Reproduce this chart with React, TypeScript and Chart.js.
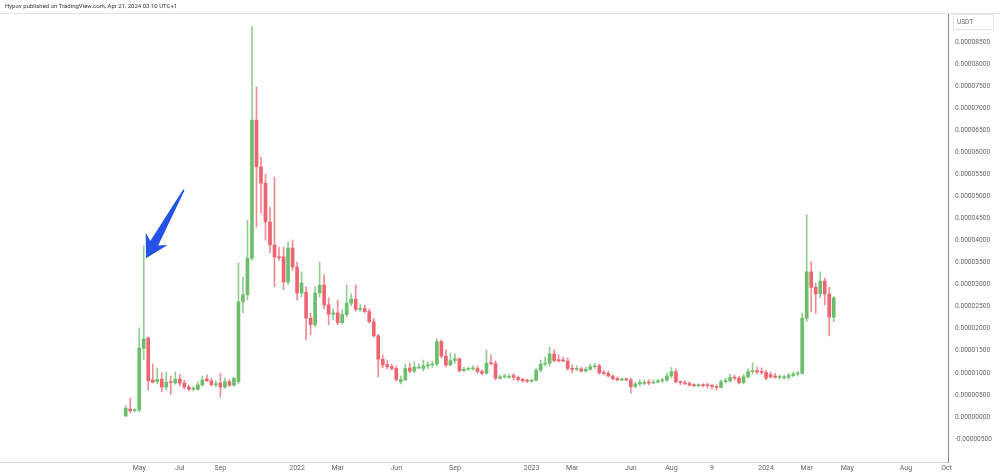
import React, { useEffect, useRef } from "react";
import { Chart, registerables } from "chart.js";

Chart.register(...registerables);

// Weekly candles, values in micro-USDT (1e-6 USDT), week 0 = 2021-04-12
const opens = [
  0.25, 1.8, 1.4, 1.6, 15.6, 17.9, 8.4, 8.0, 8.6, 6.8, 7.9, 7.7, 8.6, 7.7, 6.8, 6.3, 6.3, 7.3, 8.6, 8.2,
  7.3, 7.7, 6.8, 8.0, 7.2, 8.0, 26.1, 27.7, 36.0, 67.3, 56.7, 53.0, 44.2, 39.0, 36.3, 36.3, 30.6, 38.3, 34.0, 28.1,
  28.3, 22.4, 20.9, 28.1, 29.9, 25.4, 23.3, 23.6, 21.4, 23.2, 25.8, 26.7, 24.4, 24.6, 23.9, 21.6, 18.4, 13.1, 11.9, 11.4,
  11.0, 8.0, 8.4, 11.1, 10.4, 11.3, 11.0, 11.6, 11.8, 12.0, 17.1, 13.8, 11.8, 12.8, 13.2, 10.5, 10.8, 10.9, 11.0, 10.3,
  9.9, 12.2, 12.1, 8.8, 9.1, 9.2, 9.4, 9.0, 8.5, 8.2, 8.1, 8.3, 10.6, 12.0, 12.2, 14.3, 13.0, 12.9, 12.7, 11.0,
  10.8, 10.9, 10.4, 10.8, 11.4, 11.6, 10.0, 9.9, 9.3, 8.7, 8.4, 8.5, 8.4, 6.9, 7.5, 7.8, 7.8, 7.7, 7.9, 8.2,
  8.4, 9.3, 10.3, 8.0, 7.8, 7.6, 7.25, 7.1, 7.2, 7.3, 7.2, 6.9, 6.7, 8.0, 8.2, 9.0, 8.8, 7.8, 9.1, 10.3,
  10.5, 10.2, 10.1, 9.6, 9.3, 9.0, 9.1, 9.0, 9.4, 9.75, 9.9, 22.4, 32.9, 29.4, 27.9, 30.8, 27.9, 22.6,
];
const highs = [
  2.7, 4.3, 1.9, 20.2, 38.8, 18.2, 12.0, 11.1, 10.0, 10.2, 9.3, 10.2, 9.7, 8.4, 7.3, 6.9, 7.9, 9.3, 9.5, 8.8,
  8.2, 9.9, 8.8, 8.5, 9.0, 34.9, 31.7, 44.6, 88.5, 74.8, 58.9, 55.0, 47.5, 54.4, 38.5, 38.5, 39.7, 40.1, 35.1, 32.9,
  29.5, 23.5, 29.5, 35.1, 32.2, 27.0, 24.5, 26.5, 24.3, 29.9, 27.9, 29.9, 25.6, 25.4, 24.5, 22.4, 18.8, 14.1, 12.9, 12.0,
  11.6, 9.3, 12.0, 12.2, 12.5, 12.0, 12.9, 12.5, 12.7, 17.7, 17.5, 15.2, 14.5, 14.3, 13.4, 11.3, 11.3, 11.6, 11.6, 10.7,
  15.2, 14.1, 12.7, 9.5, 9.7, 9.7, 9.9, 9.3, 8.8, 8.6, 8.6, 11.1, 12.9, 13.6, 15.8, 15.2, 14.1, 13.6, 13.4, 11.8,
  11.6, 11.3, 11.3, 12.0, 12.2, 12.0, 10.6, 10.4, 9.5, 9.1, 8.8, 8.8, 8.8, 7.9, 8.4, 8.4, 8.4, 8.4, 8.6, 8.8,
  10.0, 11.3, 10.9, 8.2, 8.2, 8.0, 7.5, 7.5, 7.5, 7.7, 7.3, 7.3, 8.4, 8.8, 9.7, 9.5, 9.3, 9.7, 10.9, 12.3,
  11.3, 11.1, 10.6, 10.2, 9.9, 9.5, 9.5, 9.9, 10.2, 10.4, 23.6, 45.8, 35.2, 30.4, 32.9, 31.5, 29.4, 27.3,
];
const lows = [
  0.1, 0.9, 1.2, 1.2, 13.0, 6.1, 7.7, 7.5, 5.7, 6.1, 5.2, 7.4, 7.0, 6.3, 5.9, 5.9, 6.0, 7.0, 8.0, 7.0,
  6.8, 4.5, 6.5, 6.9, 7.0, 7.5, 23.6, 26.5, 35.5, 43.0, 46.2, 40.1, 37.2, 29.5, 35.5, 28.8, 30.0, 33.3, 26.5, 27.2,
  17.5, 18.6, 20.4, 27.2, 24.5, 20.9, 22.0, 20.9, 21.1, 22.7, 25.2, 24.0, 24.0, 23.6, 21.3, 18.1, 9.1, 11.1, 10.9, 10.6,
  8.1, 7.5, 8.2, 10.0, 10.0, 11.0, 10.4, 11.0, 11.3, 11.6, 13.4, 11.3, 11.6, 12.2, 10.2, 10.2, 10.6, 10.6, 9.9, 9.5,
  9.7, 11.8, 8.4, 8.6, 8.8, 8.8, 8.4, 8.2, 7.9, 7.8, 7.9, 8.2, 10.2, 11.6, 11.6, 12.5, 12.5, 12.5, 10.6, 10.0,
  10.4, 10.2, 10.2, 10.6, 10.9, 9.7, 9.5, 9.1, 8.4, 8.2, 8.2, 8.2, 5.4, 6.6, 7.0, 7.3, 7.3, 7.5, 7.7, 7.7,
  8.0, 8.8, 7.7, 7.3, 7.3, 7.0, 6.8, 6.8, 6.8, 6.6, 6.3, 6.1, 6.6, 7.7, 7.9, 8.4, 7.5, 7.5, 8.8, 9.7,
  9.7, 9.7, 8.4, 8.8, 8.8, 8.6, 8.6, 8.6, 9.1, 9.3, 9.7, 21.6, 23.9, 23.5, 27.0, 25.4, 18.4, 21.6,
];
const closes = [
  2.0, 1.4, 1.6, 15.6, 17.7, 8.2, 7.9, 8.5, 6.8, 7.9, 7.8, 8.6, 7.7, 6.8, 6.3, 6.4, 7.3, 8.4, 8.2, 7.3,
  7.5, 6.8, 8.0, 7.2, 8.8, 26.1, 27.7, 36.0, 67.3, 56.7, 53.0, 44.2, 39.0, 36.3, 36.1, 30.6, 38.3, 34.0, 28.1, 30.4,
  22.4, 20.9, 28.1, 29.9, 25.4, 23.3, 23.6, 21.4, 23.2, 25.8, 26.7, 24.4, 24.6, 23.9, 21.6, 18.4, 13.1, 11.8, 11.4, 11.0,
  8.5, 8.5, 11.0, 10.4, 11.3, 11.3, 11.6, 11.8, 12.0, 17.1, 13.8, 11.8, 12.8, 13.2, 10.5, 10.8, 10.9, 11.0, 10.3, 9.9,
  12.2, 12.1, 8.8, 9.1, 9.2, 9.2, 9.0, 8.5, 8.2, 8.1, 8.3, 10.6, 12.0, 12.2, 14.3, 12.8, 12.7, 12.7, 11.0, 10.8,
  10.9, 10.4, 10.8, 11.4, 11.6, 10.0, 9.9, 9.3, 8.7, 8.4, 8.5, 8.4, 6.9, 7.5, 7.8, 7.8, 7.7, 7.9, 8.2, 8.4,
  9.3, 10.3, 8.0, 7.8, 7.6, 7.25, 7.1, 7.2, 7.1, 7.1, 6.9, 6.7, 8.0, 8.2, 9.0, 8.8, 7.8, 9.1, 10.3, 10.5,
  10.2, 10.1, 8.8, 9.1, 9.0, 9.1, 9.1, 9.4, 9.75, 9.9, 22.4, 32.9, 29.4, 27.9, 30.8, 27.9, 22.6, 27.0,
];

// Time axis labels (placed on the first weekly bar of each period)
const tickLabels = ["May", "Jul", "Sep", "2022", "Mar", "Jun", "Sep", "2023", "Mar", "Jun", "Aug", "9", "2024", "Mar", "May", "Aug", "Oct"];
const tickWeeks = [3, 12, 21, 38, 47, 60, 73, 90, 99, 112, 121, 130, 142, 151, 160, 173, 182];

// Price axis ticks (micro-USDT)
const priceTicks = [-5, 0, 5, 10, 15, 20, 25, 30, 35, 40, 45, 50, 55, 60, 65, 70, 75, 80, 85];

// Arrow annotation: tail and tip in data coordinates (week, micro-USDT)
const arrowTail = { x: 12.9, y: 51.5 };
const arrowTip = { x: 4.5, y: 36.0 };

const GREEN = "#6cbd6c";
const RED = "#ef6471";
const FONT = "Roboto, 'Liberation Sans', sans-serif";

export default function App() {
  const ref = useRef<HTMLCanvasElement | null>(null);

  useEffect(() => {
    document.body.style.margin = "0";
    const canvas = ref.current!;
    const up = opens.map((o, i) => closes[i] >= o);
    const colors = up.map((u) => (u ? GREEN : RED));
    const wickColors = up.map((u) => (u ? "rgba(108,189,108,0.75)" : "rgba(239,100,113,0.75)"));

    const decor = {
      id: "decor",
      afterDraw(chart: any) {
        const { ctx, chartArea, scales } = chart;
        ctx.save();
        // top frame line
        ctx.strokeStyle = "#e3e3e3";
        ctx.lineWidth = 1;
        ctx.beginPath();
        ctx.moveTo(0, chartArea.top + 0.5);
        ctx.lineTo(chart.width, chartArea.top + 0.5);
        ctx.stroke();
        // USDT box
        const bx = chartArea.right + 5;
        const by = chartArea.top + 1;
        ctx.strokeStyle = "#e6e6e6";
        ctx.strokeRect(bx + 0.5, by + 0.5, 40, 15);
        ctx.fillStyle = "#666";
        ctx.font = `6.5px ${FONT}`;
        ctx.textBaseline = "middle";
        ctx.textAlign = "left";
        ctx.fillText("USDT", bx + 4, by + 8);
        // arrow
        const xs = scales.x, ys = scales.y;
        const tx = xs.getPixelForValue(arrowTail.x), ty = ys.getPixelForValue(arrowTail.y);
        const px = xs.getPixelForValue(arrowTip.x), py = ys.getPixelForValue(arrowTip.y);
        const dx = px - tx, dy = py - ty;
        const L = Math.hypot(dx, dy);
        const ux = dx / L, uy = dy / L;
        const nx = -uy, ny = ux;
        const pt = (a: number, c: number) => [tx + ux * a + nx * c, ty + uy * a + ny * c];
        const shape = [
          pt(0, -0.8), pt(L - 17, -4.5), pt(L - 22, -12.5), pt(L, 0),
          pt(L - 22, 12.5), pt(L - 17, 4.5), pt(0, 0.8),
        ];
        ctx.fillStyle = "#2451e6";
        ctx.beginPath();
        shape.forEach(([x, y], i) => (i === 0 ? ctx.moveTo(x, y) : ctx.lineTo(x, y)));
        ctx.closePath();
        ctx.fill();
        ctx.restore();
      },
    };

    const chart = new Chart(canvas, {
      type: "bar",
      data: {
        datasets: [
          {
            label: "body",
            data: opens.map((o, i) => ({ x: i, y: [o, closes[i]] })) as any,
            backgroundColor: colors,
            barThickness: 3,
            minBarLength: 1,
            grouped: false,
            order: 0,
          } as any,
          {
            label: "wick",
            data: opens.map((_, i) => ({ x: i, y: [lows[i], highs[i]] })) as any,
            backgroundColor: wickColors,
            barThickness: 1,
            grouped: false,
            order: 1,
          } as any,
        ],
      },
      plugins: [decor],
      options: {
        responsive: false,
        animation: false,
        devicePixelRatio: 1,
        layout: { padding: { top: 13, left: 0, right: 0, bottom: 0 } },
        plugins: { legend: { display: false }, tooltip: { enabled: false }, title: { display: false } },
        scales: {
          x: {
            type: "linear",
            min: -27.87,
            max: 182.33,
            offset: false,
            grid: { display: false, drawTicks: false, tickLength: 0 },
            border: { display: true, color: "#d4d4d4" },
            afterBuildTicks: (s: any) => {
              s.ticks = tickWeeks.map((v) => ({ value: v }));
            },
            afterFit: (s: any) => {
              s.height = 13;
            },
            ticks: {
              autoSkip: false,
              maxRotation: 0,
              padding: 2,
              color: "#666",
              font: { family: FONT, size: 7 },
              callback: (v: any) => tickLabels[tickWeeks.indexOf(Number(v))] ?? "",
            },
          },
          y: {
            type: "linear",
            position: "right",
            min: -10.2,
            max: 91.57,
            grid: { display: false, drawTicks: false, tickLength: 0 },
            border: { display: true, color: "#8a8a8a" },
            afterBuildTicks: (s: any) => {
              s.ticks = priceTicks.map((v) => ({ value: v }));
            },
            afterFit: (s: any) => {
              s.width = 52;
            },
            ticks: {
              padding: 7,
              color: "#666",
              font: { family: FONT, size: 6.6 },
              callback: (v: any) => (Number(v) * 1e-6).toFixed(8),
            },
          },
        },
      } as any,
    });
    return () => chart.destroy();
  }, []);

  return (
    <div style={{ position: "fixed", left: 0, top: 0, width: 1000, height: 475, background: "#fff" }}>
      <div
        style={{
          position: "absolute",
          left: 5,
          top: 2,
          fontFamily: FONT,
          fontSize: "6px",
          lineHeight: "8px",
          color: "#333",
          whiteSpace: "nowrap",
        }}
      >
        Hypov published on TradingView.com, Apr 21, 2024 03:10 UTC+1
      </div>
      <canvas ref={ref} width={1000} height={475} style={{ display: "block" }} />
    </div>
  );
}
